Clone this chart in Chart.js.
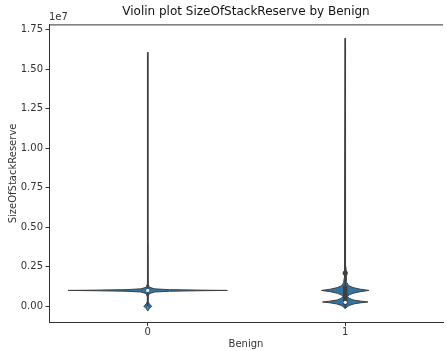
<html>
  <head>
    <script src="https://cdn.jsdelivr.net/npm/chart.js@4/dist/chart.umd.min.js"></script>
    <style>
      body {
        margin: 0;
        background: #fff;
      }
      #wrap {
        width: 447px;
        height: 351px;
      }
    </style>
  </head>
  <body>
    <div id="wrap"><canvas id="chart"></canvas></div>
    <script>
      const categories = ["0", "1"];

      // violin outline: value on the y axis, half width in category units
      const violin0Y = [
        -0.3e6, -0.15e6, -0.05e6, 0, 0.05e6, 0.15e6, 0.3e6, 0.6e6, 0.8e6,
        0.9e6, 0.95e6, 0.98e6, 1.0e6, 1.02e6, 1.05e6, 1.1e6, 1.2e6, 1.4e6,
        4e6, 16.07e6,
      ];
      const violin0W = [
        0, 0.008, 0.016, 0.02, 0.016, 0.008, 0.002, 0.002, 0.008, 0.035, 0.11,
        0.26, 0.403, 0.26, 0.11, 0.035, 0.008, 0.002, 0.001, 0,
      ];
      const violin1Y = [
        -0.15e6, -0.05e6, 0.05e6, 0.15e6, 0.22e6, 0.27e6, 0.32e6, 0.4e6,
        0.5e6, 0.62e6, 0.72e6, 0.82e6, 0.92e6, 1.0e6, 1.08e6, 1.18e6, 1.3e6,
        1.5e6, 1.8e6, 2.1e6, 2.5e6, 4e6, 16.96e6,
      ];
      const violin1W = [
        0, 0.008, 0.02, 0.045, 0.08, 0.115, 0.08, 0.04, 0.02, 0.012, 0.02,
        0.04, 0.075, 0.12, 0.075, 0.04, 0.018, 0.008, 0.005, 0.006, 0.003,
        0.002, 0,
      ];

      // inner box per category
      const whiskerLow = [0, -0.15e6];
      const whiskerHigh = [16.07e6, 16.96e6];
      const boxLow = [0.97e6, 0.1e6];
      const boxHigh = [1.03e6, 1.3e6];
      const medians = [1.0e6, 0.25e6];
      const bumps = [null, 2.1e6];

      const yTicks = [0, 2.5e6, 5e6, 7.5e6, 10e6, 12.5e6, 15e6, 17.5e6];

      const fillColor = "#3274a1";
      const edgeColor = "#3f3f3f";
      const textColor = "#333";

      const half = (center, ys, ws, sign) =>
        ys.map((y, i) => ({ x: center + sign * ws[i], y: y }));

      const violins = [
        [violin0Y, violin0W],
        [violin1Y, violin1W],
      ];

      const datasets = [];
      violins.forEach(([ys, ws], c) => {
        [1, -1].forEach((sign) => {
          datasets.push({
            data: half(c, ys, ws, sign),
            borderColor: edgeColor,
            borderWidth: 1,
            backgroundColor: fillColor,
            fill: { value: c },
            pointRadius: 0,
            order: 4,
          });
        });
        datasets.push({
          data: [
            { x: c, y: whiskerLow[c] },
            { x: c, y: whiskerHigh[c] },
          ],
          borderColor: edgeColor,
          borderWidth: 1.6,
          pointRadius: 0,
          fill: false,
          order: 3,
        });
        datasets.push({
          data: [
            { x: c, y: boxLow[c] },
            { x: c, y: boxHigh[c] },
          ],
          borderColor: edgeColor,
          borderWidth: 4.5,
          borderCapStyle: "butt",
          pointRadius: 0,
          fill: false,
          order: 2,
        });
        if (bumps[c] !== null) {
          datasets.push({
            data: [{ x: c, y: bumps[c] }],
            showLine: false,
            pointRadius: 2.6,
            pointBorderWidth: 0,
            pointBackgroundColor: edgeColor,
            order: 2,
          });
        }
        datasets.push({
          data: [{ x: c, y: medians[c] }],
          showLine: false,
          pointRadius: 1.6,
          pointBorderWidth: 0,
          pointBackgroundColor: "#ffffff",
          order: 0,
        });
      });

      // top spine and the matplotlib style offset label
      const extras = {
        id: "extras",
        afterDraw(chart) {
          const { ctx, chartArea } = chart;
          ctx.save();
          ctx.strokeStyle = textColor;
          ctx.lineWidth = 1;
          ctx.beginPath();
          ctx.moveTo(chartArea.left, chartArea.top + 0.5);
          ctx.lineTo(chartArea.right, chartArea.top + 0.5);
          ctx.stroke();
          ctx.fillStyle = textColor;
          ctx.font = "10px 'DejaVu Sans'";
          ctx.textBaseline = "bottom";
          ctx.fillText("1e7", chartArea.left, chartArea.top - 2);
          ctx.restore();
        },
      };

      new Chart(document.getElementById("chart"), {
        type: "line",
        data: { datasets: datasets },
        plugins: [extras],
        options: {
          indexAxis: "y",
          responsive: true,
          maintainAspectRatio: false,
          animation: false,
          layout: { padding: 0 },
          elements: { line: { tension: 0 } },
          plugins: {
            legend: { display: false },
            tooltip: { enabled: false },
            title: {
              display: true,
              fullSize: false,
              text: "Violin plot SizeOfStackReserve by Benign",
              color: "#111",
              font: { family: "DejaVu Sans", size: 12, weight: "normal" },
              padding: { top: 5, bottom: 5 },
            },
          },
          scales: {
            x: {
              type: "linear",
              min: -0.5,
              max: 1.495,
              afterBuildTicks: (scale) => {
                scale.ticks = categories.map((c, i) => ({ value: i }));
              },
              afterFit: (scale) => {
                scale.height = 28.5;
              },
              border: { color: textColor, width: 1 },
              grid: {
                drawOnChartArea: false,
                tickLength: 3.5,
                color: textColor,
              },
              ticks: {
                color: textColor,
                padding: 0,
                font: { family: "DejaVu Sans", size: 10 },
                callback: (v) => categories[v],
              },
              title: {
                display: true,
                text: "Benign",
                color: textColor,
                font: { family: "DejaVu Sans", size: 10 },
                padding: { top: 0, bottom: 1 },
              },
            },
            y: {
              type: "linear",
              min: -1.03e6,
              max: 17.84e6,
              afterBuildTicks: (scale) => {
                scale.ticks = yTicks.map((v) => ({ value: v }));
              },
              afterFit: (scale) => {
                scale.width = 49;
              },
              border: { color: textColor, width: 1 },
              grid: {
                drawOnChartArea: false,
                tickLength: 3.5,
                color: textColor,
              },
              ticks: {
                color: textColor,
                padding: 2.5,
                font: { family: "DejaVu Sans", size: 10 },
                callback: (v) => (v / 1e7).toFixed(2),
              },
              title: {
                display: true,
                text: "SizeOfStackReserve",
                color: textColor,
                font: { family: "DejaVu Sans", size: 10 },
                padding: { top: 7.5, bottom: 0 },
              },
            },
          },
        },
      });
    </script>
  </body>
</html>
